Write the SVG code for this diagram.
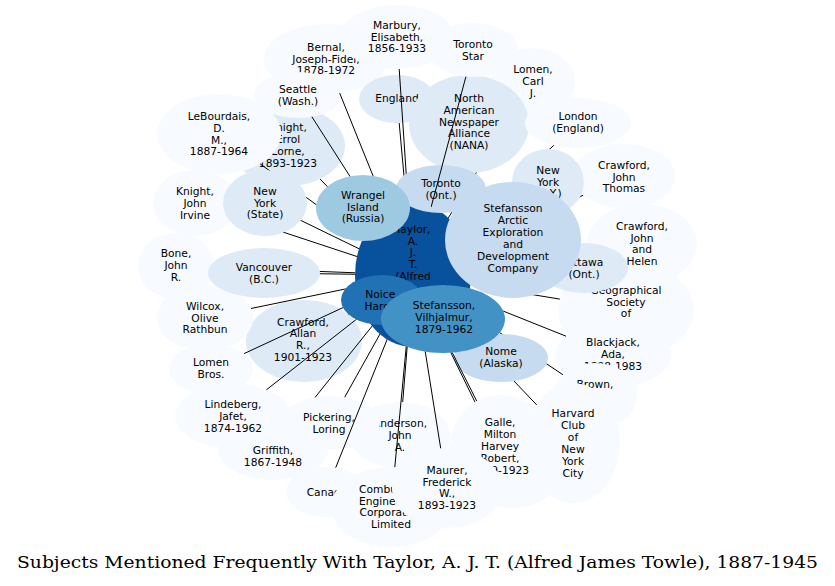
<svg xmlns="http://www.w3.org/2000/svg" width="835" height="586" viewBox="0 0 835 586">
<style>
.node text{font-family:"DejaVu Sans","Liberation Sans",sans-serif;font-size:10.7px;text-anchor:middle;fill:#000}
.f0{fill:#f7fbff}.f1{fill:#deebf7}.f2{fill:#c6dbef}.f3{fill:#9ecae1}.f5{fill:#4292c6}.f6{fill:#2171b5}.f7{fill:#08519c}
#edges line{stroke:#000;stroke-width:1;fill:none}
.title{font-family:"DejaVu Serif","Liberation Serif",serif;font-size:16px;fill:#000}
</style>
<defs>
<g id="bset">
<ellipse cx="413" cy="275" rx="58" ry="72"/>
<ellipse cx="363" cy="208" rx="47" ry="33"/>
<ellipse cx="441" cy="189" rx="45" ry="24"/>
<ellipse cx="513" cy="240" rx="68" ry="58"/>
<ellipse cx="382" cy="300" rx="41" ry="25"/>
<ellipse cx="443" cy="319" rx="62" ry="34"/>
<ellipse cx="265" cy="203" rx="42" ry="33"/>
<ellipse cx="264" cy="273" rx="56" ry="25"/>
<ellipse cx="548" cy="182" rx="36" ry="33"/>
<ellipse cx="584" cy="268" rx="44" ry="25"/>
<ellipse cx="469" cy="124" rx="60" ry="49"/>
</g>
<mask id="mB" maskUnits="userSpaceOnUse" x="0" y="0" width="835" height="586"><rect width="835" height="586" fill="#fff"/><use href="#bset" fill="#000"/></mask>
<mask id="mN" maskUnits="userSpaceOnUse" x="0" y="0" width="835" height="586"><rect width="835" height="586" fill="#fff"/><use href="#bset" fill="#000"/><ellipse cx="501" cy="358" rx="47" ry="24" fill="#000"/></mask>
<mask id="mG" maskUnits="userSpaceOnUse" x="0" y="0" width="835" height="586"><rect width="835" height="586" fill="#fff"/><use href="#bset" fill="#000"/><ellipse cx="500" cy="447" rx="50" ry="52" fill="#000"/></mask>
<mask id="mP" maskUnits="userSpaceOnUse" x="0" y="0" width="835" height="586"><rect width="835" height="586" fill="#fff"/><use href="#bset" fill="#000"/><ellipse cx="330" cy="423" rx="50" ry="27" fill="#000"/></mask>
<mask id="mT" maskUnits="userSpaceOnUse" x="0" y="0" width="835" height="586"><rect width="835" height="586" fill="#fff"/><ellipse cx="413" cy="275" rx="58" ry="72" fill="#000"/></mask>
</defs>
<rect width="835" height="586" fill="#fff"/>

<g id="n-taylor" class="node"><ellipse class="f7" cx="413" cy="275" rx="58" ry="72"/><text><tspan x="413" y="232.7">Taylor,</tspan><tspan x="413" y="244.5">A.</tspan><tspan x="413" y="256.3">J.</tspan><tspan x="413" y="268.1">T.</tspan><tspan x="413" y="279.9">(Alfred</tspan></text></g>
<g id="n-crawford-allan" class="node"><ellipse class="f1" cx="304" cy="341" rx="58" ry="41"/><text><tspan x="303" y="325.5">Crawford,</tspan><tspan x="303" y="337.3">Allan</tspan><tspan x="303" y="349.1">R.,</tspan><tspan x="303" y="360.9">1901-1923</tspan></text></g>
<g id="n-knight-errol" class="node"><ellipse class="f1" cx="288" cy="146" rx="57" ry="40"/><text><tspan x="288" y="131.4">Knight,</tspan><tspan x="288" y="143.2">Errol</tspan><tspan x="288" y="155">Lorne,</tspan><tspan x="288" y="166.8">1893-1923</tspan></text></g>
<g id="n-lebourdais" class="node"><ellipse class="f0" cx="219" cy="134" rx="62" ry="40"/><text><tspan x="219" y="120">LeBourdais,</tspan><tspan x="219" y="131.8">D.</tspan><tspan x="219" y="143.6">M.,</tspan><tspan x="219" y="155.4">1887-1964</tspan></text></g>
<g id="n-bernal" class="node"><ellipse class="f0" cx="326" cy="59" rx="62" ry="35"/><text><tspan x="326" y="50.7">Bernal,</tspan><tspan x="326" y="62.5">Joseph-Fidel,</tspan><tspan x="326" y="74.3">1878-1972</tspan></text></g>
<g id="n-seattle" class="node"><ellipse class="f0" cx="298" cy="95" rx="44" ry="23"/><text><tspan x="298" y="93">Seattle</tspan><tspan x="298" y="104.8">(Wash.)</tspan></text></g>
<g id="n-england" class="node"><ellipse class="f1" cx="397" cy="99" rx="38" ry="24"/><text><tspan x="397" y="101.7">England</tspan></text></g>
<g id="n-marbury" class="node"><ellipse class="f0" cx="397" cy="37" rx="57" ry="32"/><text><tspan x="397" y="28.7">Marbury,</tspan><tspan x="397" y="40.5">Elisabeth,</tspan><tspan x="397" y="52.3">1856-1933</tspan></text></g>
<g id="n-lomen-carl" class="node"><ellipse class="f0" cx="533" cy="81" rx="42" ry="33"/><text><tspan x="533" y="73">Lomen,</tspan><tspan x="533" y="84.8">Carl</tspan><tspan x="533" y="96.6">J.</tspan></text></g>
<g id="n-nana" class="node"><ellipse class="f1" cx="469" cy="124" rx="60" ry="49"/><text><tspan x="469" y="102">North</tspan><tspan x="469" y="113.8">American</tspan><tspan x="469" y="125.6">Newspaper</tspan><tspan x="469" y="137.4">Alliance</tspan><tspan x="469" y="149.2">(NANA)</tspan></text></g>
<g id="n-toronto-ont" class="node"><ellipse class="f2" cx="441" cy="189" rx="45" ry="24"/><text><tspan x="441" y="186.7">Toronto</tspan><tspan x="441" y="198.5">(Ont.)</tspan></text></g>
<g id="n-toronto-star" class="node"><ellipse class="f0" cx="473" cy="50" rx="45" ry="27"/><text><tspan x="473" y="48">Toronto</tspan><tspan x="473" y="59.8">Star</tspan></text></g>
<g id="n-london" class="node"><ellipse class="f0" cx="578" cy="123" rx="53" ry="25"/><text><tspan x="578" y="120.4">London</tspan><tspan x="578" y="132.2">(England)</tspan></text></g>
<g id="n-crawford-jt" class="node"><ellipse class="f0" cx="624" cy="176" rx="51" ry="32"/><text><tspan x="624" y="168.7">Crawford,</tspan><tspan x="624" y="180.5">John</tspan><tspan x="624" y="192.3">Thomas</tspan></text></g>
<g id="n-ny-ny" class="node"><ellipse class="f1" cx="548" cy="182" rx="36" ry="33"/><text><tspan x="548" y="173.7">New</tspan><tspan x="548" y="185.5">York</tspan><tspan x="548" y="197.3">(N.Y.)</tspan></text></g>
<g id="n-geographical" class="node"><ellipse class="f0" cx="626" cy="310" rx="68" ry="48"/><text><tspan x="626" y="293.7">Geographical</tspan><tspan x="626" y="305.5">Society</tspan><tspan x="626" y="317.3">of</tspan></text></g>
<g id="n-crawford-jh" class="node"><ellipse class="f0" cx="642" cy="244" rx="55" ry="40"/><text><tspan x="642" y="229.7">Crawford,</tspan><tspan x="642" y="241.5">John</tspan><tspan x="642" y="253.3">and</tspan><tspan x="642" y="265.1">Helen</tspan></text></g>
<g id="n-ottawa" class="node"><ellipse class="f1" cx="584" cy="268" rx="44" ry="25"/><text><tspan x="584" y="265.7">Ottawa</tspan><tspan x="584" y="277.5">(Ont.)</tspan></text></g>
<g id="n-stef-arctic" class="node"><ellipse class="f2" cx="513" cy="240" rx="68" ry="58"/><text><tspan x="513" y="212.4">Stefansson</tspan><tspan x="513" y="224.4">Arctic</tspan><tspan x="513" y="236.4">Exploration</tspan><tspan x="513" y="248.4">and</tspan><tspan x="513" y="260.4">Development</tspan><tspan x="513" y="272.4">Company</tspan></text></g>
<g id="n-blackjack" class="node"><ellipse class="f0" cx="613" cy="355" rx="58" ry="32"/><text><tspan x="613" y="346.4">Blackjack,</tspan><tspan x="613" y="358.2">Ada,</tspan><tspan x="613" y="370">1898-1983</tspan></text></g>
<g id="n-brown" class="node"><ellipse class="f0" cx="595" cy="396" rx="42" ry="33"/><text><tspan x="595" y="387.7">Brown,</tspan></text></g>
<g id="n-harvard" class="node"><ellipse class="f0" cx="573" cy="443" rx="47" ry="60"/><text><tspan x="573" y="417">Harvard</tspan><tspan x="573" y="429">Club</tspan><tspan x="573" y="441">of</tspan><tspan x="573" y="453">New</tspan><tspan x="573" y="465">York</tspan><tspan x="573" y="477">City</tspan></text></g>
<g id="n-hidden" class="node"><ellipse class="f0" cx="512" cy="478" rx="45" ry="30"/></g>
<g id="n-galle" class="node"><ellipse class="f0" cx="500" cy="447" rx="50" ry="52"/><text><tspan x="500" y="426.4">Galle,</tspan><tspan x="500" y="438.4">Milton</tspan><tspan x="500" y="450.4">Harvey</tspan><tspan x="500" y="462.4">Robert,</tspan><tspan x="500" y="474.4">1899-1923</tspan></text></g>
<g id="n-anderson" class="node"><ellipse class="f0" cx="400" cy="435" rx="50" ry="33"/><text><tspan x="400" y="427">Anderson,</tspan><tspan x="400" y="438.8">John</tspan><tspan x="400" y="450.6">A.</tspan></text></g>
<g id="n-canada" class="node"><ellipse class="f0" cx="326" cy="492" rx="40" ry="25"/><text><tspan x="327" y="496">Canada</tspan></text></g>
<g id="n-combustion" class="node"><ellipse class="f0" cx="391" cy="507" rx="60" ry="40"/><text><tspan x="391" y="492.7">Combustion</tspan><tspan x="391" y="504.5">Engineering</tspan><tspan x="391" y="516.3">Corporation</tspan><tspan x="391" y="528.1">Limited</tspan></text></g>
<g id="n-maurer" class="node"><ellipse class="f0" cx="447" cy="488" rx="55" ry="40"/><text><tspan x="447" y="473.7">Maurer,</tspan><tspan x="447" y="485.5">Frederick</tspan><tspan x="447" y="497.3">W.,</tspan><tspan x="447" y="509.1">1893-1923</tspan></text></g>
<g id="n-griffith" class="node"><ellipse class="f0" cx="273" cy="450" rx="55" ry="30"/><text><tspan x="273" y="453.7">Griffith,</tspan><tspan x="273" y="465.5">1867-1948</tspan></text></g>
<g id="n-pickering" class="node"><ellipse class="f0" cx="330" cy="423" rx="50" ry="27"/><text><tspan x="329" y="421">Pickering,</tspan><tspan x="329" y="432.8">Loring</tspan></text></g>
<g id="n-lindeberg" class="node"><ellipse class="f0" cx="233" cy="416" rx="58" ry="32"/><text><tspan x="233" y="408">Lindeberg,</tspan><tspan x="233" y="419.8">Jafet,</tspan><tspan x="233" y="431.6">1874-1962</tspan></text></g>
<g id="n-lomen-bros" class="node"><ellipse class="f0" cx="211" cy="369" rx="42" ry="25"/><text><tspan x="211" y="366.4">Lomen</tspan><tspan x="211" y="378.2">Bros.</tspan></text></g>
<g id="n-wilcox" class="node"><ellipse class="f0" cx="205" cy="318" rx="48" ry="33"/><text><tspan x="205" y="309.7">Wilcox,</tspan><tspan x="205" y="321.5">Olive</tspan><tspan x="205" y="333.3">Rathbun</tspan></text></g>
<g id="n-bone" class="node"><ellipse class="f0" cx="176" cy="266" rx="38" ry="33"/><text><tspan x="176" y="257">Bone,</tspan><tspan x="176" y="268.8">John</tspan><tspan x="176" y="280.6">R.</tspan></text></g>
<g id="n-knight-ji" class="node"><ellipse class="f0" cx="195" cy="203" rx="42" ry="33"/><text><tspan x="195" y="195.4">Knight,</tspan><tspan x="195" y="207.2">John</tspan><tspan x="195" y="219">Irvine</tspan></text></g>
<g id="n-ny-state" class="node"><ellipse class="f1" cx="265" cy="203" rx="42" ry="33"/><text><tspan x="265" y="194.7">New</tspan><tspan x="265" y="206.5">York</tspan><tspan x="265" y="218.3">(State)</tspan></text></g>
<g id="n-vancouver" class="node"><ellipse class="f1" cx="264" cy="273" rx="56" ry="25"/><text><tspan x="264" y="271">Vancouver</tspan><tspan x="264" y="282.8">(B.C.)</tspan></text></g>
<g id="n-nome" class="node"><ellipse class="f2" cx="501" cy="358" rx="47" ry="24"/><text><tspan x="501" y="354.7">Nome</tspan><tspan x="501" y="366.5">(Alaska)</tspan></text></g>
<g id="n-wrangel" class="node"><ellipse class="f3" cx="363" cy="208" rx="47" ry="33"/><text><tspan x="363" y="198.7">Wrangel</tspan><tspan x="363" y="210.5">Island</tspan><tspan x="363" y="222.3">(Russia)</tspan></text></g>
<g id="n-noice" class="node"><ellipse class="f6" cx="382" cy="300" rx="41" ry="25"/><text><tspan x="382" y="297.7">Noice,</tspan><tspan x="382" y="309.5">Harold</tspan></text></g>
<g id="n-stef-v" class="node"><ellipse class="f5" cx="443" cy="319" rx="62" ry="34"/><text><tspan x="444" y="309.4">Stefansson,</tspan><tspan x="444" y="321.2">Vilhjalmur,</tspan><tspan x="444" y="333">1879-1962</tspan></text></g>

<g id="edges">
<line x1="348" y1="314.3" x2="413" y2="275" mask="url(#mB)"/>
<line x1="320.1" y1="179.1" x2="413" y2="275" mask="url(#mB)"/>
<line x1="260.2" y1="163.9" x2="413" y2="275" mask="url(#mB)"/>
<line x1="339.7" y1="93.1" x2="413" y2="275" mask="url(#mB)"/>
<line x1="311.9" y1="116.8" x2="413" y2="275" mask="url(#mB)"/>
<line x1="399.2" y1="123" x2="413" y2="275" mask="url(#mB)"/>
<line x1="399.2" y1="69" x2="413" y2="275" mask="url(#mB)"/>
<line x1="514.6" y1="110.7" x2="413" y2="275" mask="url(#mB)"/>
<line x1="469" y1="124" x2="413" y2="275" mask="url(#mB)"/>
<line x1="441" y1="189" x2="413" y2="275" mask="url(#mB)"/>
<line x1="465.9" y1="76.7" x2="413" y2="275" mask="url(#mT)"/>
<line x1="553.8" y1="145.3" x2="413" y2="275" mask="url(#mB)"/>
<line x1="583.2" y1="195.2" x2="413" y2="275" mask="url(#mB)"/>
<line x1="548" y1="182" x2="413" y2="275" mask="url(#mB)"/>
<line x1="559.8" y1="299.1" x2="413" y2="275" mask="url(#mB)"/>
<line x1="587.9" y1="251.3" x2="413" y2="275" mask="url(#mB)"/>
<line x1="584" y1="268" x2="413" y2="275" mask="url(#mB)"/>
<line x1="513" y1="240" x2="413" y2="275" mask="url(#mB)"/>
<line x1="566" y1="336.2" x2="413" y2="275" mask="url(#mB)"/>
<line x1="562.9" y1="374.7" x2="413" y2="275" mask="url(#mN)"/>
<line x1="536.7" y1="404.9" x2="413" y2="275" mask="url(#mN)"/>
<line x1="498.1" y1="449.5" x2="413" y2="275" mask="url(#mG)"/>
<line x1="476.7" y1="401" x2="413" y2="275" mask="url(#mB)"/>
<line x1="402.7" y1="402" x2="413" y2="275" mask="url(#mB)"/>
<line x1="335.7" y1="467.7" x2="413" y2="275" mask="url(#mB)"/>
<line x1="394.8" y1="467.1" x2="413" y2="275" mask="url(#mB)"/>
<line x1="440.7" y1="448.3" x2="413" y2="275" mask="url(#mB)"/>
<line x1="295" y1="422.5" x2="413" y2="275" mask="url(#mP)"/>
<line x1="344.7" y1="397.2" x2="413" y2="275" mask="url(#mB)"/>
<line x1="266.4" y1="389.8" x2="413" y2="275" mask="url(#mB)"/>
<line x1="244.1" y1="353.6" x2="413" y2="275" mask="url(#mB)"/>
<line x1="251" y1="308.5" x2="413" y2="275" mask="url(#mB)"/>
<line x1="214" y1="267.4" x2="413" y2="275" mask="url(#mB)"/>
<line x1="233.7" y1="215.8" x2="413" y2="275" mask="url(#mB)"/>
<line x1="265" y1="203" x2="413" y2="275" mask="url(#mB)"/>
<line x1="264" y1="273" x2="413" y2="275" mask="url(#mB)"/>
<line x1="501" y1="358" x2="413" y2="275" mask="url(#mN)"/>
<line x1="363" y1="208" x2="413" y2="275" mask="url(#mB)"/>
<line x1="382" y1="300" x2="413" y2="275" mask="url(#mB)"/>
<line x1="443" y1="319" x2="413" y2="275" mask="url(#mB)"/>
</g>

<text class="title" x="17" y="568" textLength="801" lengthAdjust="spacingAndGlyphs">Subjects Mentioned Frequently With Taylor, A. J. T. (Alfred James Towle), 1887-1945</text>
</svg>
